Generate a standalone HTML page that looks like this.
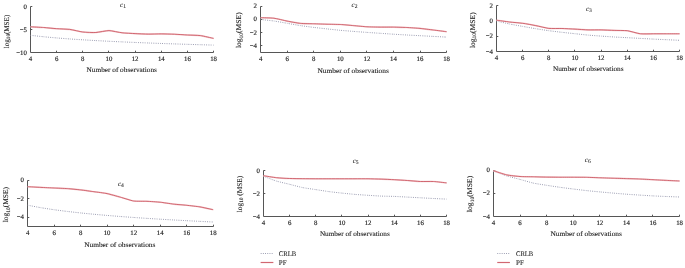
<!DOCTYPE html>
<html><head><meta charset="utf-8"><style>
html,body{margin:0;padding:0;background:#fff;}
svg{display:block;will-change:transform;text-rendering:geometricPrecision;}
text{font-family:"Liberation Serif", serif;fill:#1e1e1e;stroke:#1e1e1e;stroke-width:0.06px;}
.t{font-size:6.8px;stroke-width:0.16px;}
.l{font-size:7.0px;stroke-width:0.1px;}
.ti{font-size:7.0px;font-style:italic;}
</style></head><body>
<svg width="685" height="268" viewBox="0 0 685 268">
<rect width="685" height="268" fill="#fff"/>
<path d="M32.3,6.5 H30.5 V52.5 H213.5 V50.7" fill="none" stroke="#565656" stroke-width="1"/>
<text x="26.9" y="8.7" text-anchor="end" class="t">0</text>
<path d="M30.5,29.5 h1.8" stroke="#565656" stroke-width="1"/>
<text x="26.9" y="31.7" text-anchor="end" class="t">−5</text>
<text x="26.9" y="54.7" text-anchor="end" class="t">−10</text>
<text x="30.5" y="61.0" text-anchor="middle" class="t">4</text>
<path d="M56.5,52.5 v-1.8" stroke="#565656" stroke-width="1"/>
<text x="56.7" y="61.0" text-anchor="middle" class="t">6</text>
<path d="M82.5,52.5 v-1.8" stroke="#565656" stroke-width="1"/>
<text x="82.8" y="61.0" text-anchor="middle" class="t">8</text>
<path d="M108.5,52.5 v-1.8" stroke="#565656" stroke-width="1"/>
<text x="109.0" y="61.0" text-anchor="middle" class="t">10</text>
<path d="M135.5,52.5 v-1.8" stroke="#565656" stroke-width="1"/>
<text x="135.1" y="61.0" text-anchor="middle" class="t">12</text>
<path d="M161.5,52.5 v-1.8" stroke="#565656" stroke-width="1"/>
<text x="161.3" y="61.0" text-anchor="middle" class="t">14</text>
<path d="M187.5,52.5 v-1.8" stroke="#565656" stroke-width="1"/>
<text x="187.4" y="61.0" text-anchor="middle" class="t">16</text>
<text x="213.6" y="61.0" text-anchor="middle" class="t">18</text>
<text x="86.6" y="72.2" class="l" textLength="70.3" lengthAdjust="spacingAndGlyphs">Number of observations</text>
<text transform="translate(8.6,31.5) rotate(-90)" text-anchor="middle" class="l" style="font-size:7.3px" textLength="33.5" lengthAdjust="spacingAndGlyphs">log<tspan font-size="5.3" dy="1.5">10</tspan><tspan dy="-1.5">(MSE)</tspan></text>
<text x="120.1" y="7.3" class="ti">c<tspan font-size="5.6" dy="1.0" font-style="normal">1</tspan></text>
<path d="M30.50,35.30 C31.69,35.43 41.20,36.51 43.58,36.75 C45.96,36.99 54.28,37.74 56.66,37.94 C59.04,38.14 67.36,38.78 69.74,38.95 C72.11,39.12 80.44,39.67 82.81,39.82 C85.19,39.97 93.51,40.45 95.89,40.58 C98.27,40.72 106.59,41.15 108.97,41.27 C111.35,41.39 119.67,41.78 122.05,41.89 C124.43,42.00 132.75,42.36 135.13,42.46 C137.51,42.56 145.83,42.89 148.21,42.98 C150.59,43.07 158.91,43.38 161.29,43.46 C163.66,43.55 171.99,43.83 174.36,43.91 C176.74,43.99 185.06,44.26 187.44,44.33 C189.82,44.41 198.14,44.66 200.52,44.73 C202.90,44.80 212.41,45.07 213.60,45.10" fill="none" stroke="#9597ad" stroke-width="1" stroke-dasharray="0.9 1.3"/>
<path d="M30.50,26.80 C31.69,26.86 41.20,27.33 43.58,27.50 C45.96,27.67 54.28,28.53 56.66,28.70 C59.04,28.87 67.36,29.10 69.74,29.40 C72.11,29.70 80.44,31.72 82.81,32.00 C85.19,32.28 93.51,32.63 95.89,32.50 C98.27,32.37 106.59,30.57 108.97,30.60 C111.35,30.63 119.67,32.53 122.05,32.80 C124.43,33.07 132.75,33.48 135.13,33.60 C137.51,33.72 145.83,34.07 148.21,34.10 C150.59,34.13 158.91,33.89 161.29,33.90 C163.66,33.91 171.99,34.10 174.36,34.20 C176.74,34.30 185.06,34.87 187.44,35.00 C189.82,35.13 198.14,35.29 200.52,35.60 C202.90,35.91 212.41,38.15 213.60,38.40" fill="none" stroke="#f4ccd0" stroke-width="1.6"/><path d="M30.50,26.80 C31.69,26.86 41.20,27.33 43.58,27.50 C45.96,27.67 54.28,28.53 56.66,28.70 C59.04,28.87 67.36,29.10 69.74,29.40 C72.11,29.70 80.44,31.72 82.81,32.00 C85.19,32.28 93.51,32.63 95.89,32.50 C98.27,32.37 106.59,30.57 108.97,30.60 C111.35,30.63 119.67,32.53 122.05,32.80 C124.43,33.07 132.75,33.48 135.13,33.60 C137.51,33.72 145.83,34.07 148.21,34.10 C150.59,34.13 158.91,33.89 161.29,33.90 C163.66,33.91 171.99,34.10 174.36,34.20 C176.74,34.30 185.06,34.87 187.44,35.00 C189.82,35.13 198.14,35.29 200.52,35.60 C202.90,35.91 212.41,38.15 213.60,38.40" fill="none" stroke="#c84c58" stroke-width="0.8"/>
<path d="M262.3,6.5 H260.5 V52.5 H446.5 V50.7" fill="none" stroke="#565656" stroke-width="1"/>
<text x="256.9" y="8.0" text-anchor="end" class="t">2</text>
<path d="M260.5,19.5 h1.8" stroke="#565656" stroke-width="1"/>
<text x="256.9" y="21.3" text-anchor="end" class="t">0</text>
<path d="M260.5,32.5 h1.8" stroke="#565656" stroke-width="1"/>
<text x="256.9" y="34.7" text-anchor="end" class="t">−2</text>
<path d="M260.5,45.5 h1.8" stroke="#565656" stroke-width="1"/>
<text x="256.9" y="48.0" text-anchor="end" class="t">−4</text>
<text x="260.6" y="61.0" text-anchor="middle" class="t">4</text>
<path d="M287.5,52.5 v-1.8" stroke="#565656" stroke-width="1"/>
<text x="287.2" y="61.0" text-anchor="middle" class="t">6</text>
<path d="M313.5,52.5 v-1.8" stroke="#565656" stroke-width="1"/>
<text x="313.7" y="61.0" text-anchor="middle" class="t">8</text>
<path d="M340.5,52.5 v-1.8" stroke="#565656" stroke-width="1"/>
<text x="340.3" y="61.0" text-anchor="middle" class="t">10</text>
<path d="M366.5,52.5 v-1.8" stroke="#565656" stroke-width="1"/>
<text x="366.9" y="61.0" text-anchor="middle" class="t">12</text>
<path d="M393.5,52.5 v-1.8" stroke="#565656" stroke-width="1"/>
<text x="393.5" y="61.0" text-anchor="middle" class="t">14</text>
<path d="M420.5,52.5 v-1.8" stroke="#565656" stroke-width="1"/>
<text x="420.0" y="61.0" text-anchor="middle" class="t">16</text>
<text x="446.6" y="61.0" text-anchor="middle" class="t">18</text>
<text x="317.5" y="72.8" class="l" textLength="71.3" lengthAdjust="spacingAndGlyphs">Number of observations</text>
<text transform="translate(241.2,30.2) rotate(-90)" text-anchor="middle" class="l" style="font-size:7.3px" textLength="35.8" lengthAdjust="spacingAndGlyphs">log<tspan font-size="5.3" dy="1.5">10</tspan><tspan dy="-1.5">(MSE)</tspan></text>
<text x="351.6" y="6.8" class="ti">c<tspan font-size="5.6" dy="1.0" font-style="normal">2</tspan></text>
<path d="M260.60,19.50 C261.81,19.64 271.47,20.65 273.89,21.00 C276.30,21.35 284.76,22.88 287.17,23.30 C289.59,23.72 298.04,25.23 300.46,25.60 C302.87,25.97 311.33,27.10 313.74,27.40 C316.16,27.70 324.61,28.64 327.03,28.90 C329.44,29.16 337.90,30.07 340.31,30.30 C342.73,30.53 351.18,31.21 353.60,31.40 C356.02,31.59 364.47,32.23 366.89,32.40 C369.30,32.57 377.76,33.14 380.17,33.30 C382.59,33.46 391.04,34.05 393.46,34.20 C395.87,34.35 404.33,34.86 406.74,35.00 C409.16,35.14 417.61,35.57 420.03,35.70 C422.44,35.83 430.90,36.27 433.31,36.40 C435.73,36.53 445.39,37.04 446.60,37.10" fill="none" stroke="#9597ad" stroke-width="1" stroke-dasharray="0.9 1.3"/>
<path d="M260.60,17.70 C261.81,17.75 271.47,17.89 273.89,18.20 C276.30,18.51 284.76,20.63 287.17,21.10 C289.59,21.57 298.04,23.15 300.46,23.40 C302.87,23.65 311.33,23.73 313.74,23.80 C316.16,23.87 324.61,24.14 327.03,24.20 C329.44,24.26 337.90,24.37 340.31,24.50 C342.73,24.63 351.18,25.39 353.60,25.60 C356.02,25.81 364.47,26.66 366.89,26.80 C369.30,26.94 377.76,27.07 380.17,27.10 C382.59,27.13 391.04,27.06 393.46,27.10 C395.87,27.14 404.33,27.38 406.74,27.50 C409.16,27.62 417.61,28.17 420.03,28.40 C422.44,28.63 430.90,29.70 433.31,30.00 C435.73,30.30 445.39,31.55 446.60,31.70" fill="none" stroke="#f4ccd0" stroke-width="1.6"/><path d="M260.60,17.70 C261.81,17.75 271.47,17.89 273.89,18.20 C276.30,18.51 284.76,20.63 287.17,21.10 C289.59,21.57 298.04,23.15 300.46,23.40 C302.87,23.65 311.33,23.73 313.74,23.80 C316.16,23.87 324.61,24.14 327.03,24.20 C329.44,24.26 337.90,24.37 340.31,24.50 C342.73,24.63 351.18,25.39 353.60,25.60 C356.02,25.81 364.47,26.66 366.89,26.80 C369.30,26.94 377.76,27.07 380.17,27.10 C382.59,27.13 391.04,27.06 393.46,27.10 C395.87,27.14 404.33,27.38 406.74,27.50 C409.16,27.62 417.61,28.17 420.03,28.40 C422.44,28.63 430.90,29.70 433.31,30.00 C435.73,30.30 445.39,31.55 446.60,31.70" fill="none" stroke="#c84c58" stroke-width="0.8"/>
<path d="M498.3,5.5 H496.5 V51.5 H679.5 V49.7" fill="none" stroke="#565656" stroke-width="1"/>
<text x="492.9" y="7.6" text-anchor="end" class="t">2</text>
<path d="M496.5,20.5 h1.8" stroke="#565656" stroke-width="1"/>
<text x="492.9" y="23.0" text-anchor="end" class="t">0</text>
<path d="M496.5,36.5 h1.8" stroke="#565656" stroke-width="1"/>
<text x="492.9" y="38.3" text-anchor="end" class="t">−2</text>
<text x="492.9" y="53.7" text-anchor="end" class="t">−4</text>
<text x="496.5" y="60.0" text-anchor="middle" class="t">4</text>
<path d="M522.5,51.5 v-1.8" stroke="#565656" stroke-width="1"/>
<text x="522.7" y="60.0" text-anchor="middle" class="t">6</text>
<path d="M548.5,51.5 v-1.8" stroke="#565656" stroke-width="1"/>
<text x="548.8" y="60.0" text-anchor="middle" class="t">8</text>
<path d="M574.5,51.5 v-1.8" stroke="#565656" stroke-width="1"/>
<text x="575.0" y="60.0" text-anchor="middle" class="t">10</text>
<path d="M601.5,51.5 v-1.8" stroke="#565656" stroke-width="1"/>
<text x="601.1" y="60.0" text-anchor="middle" class="t">12</text>
<path d="M627.5,51.5 v-1.8" stroke="#565656" stroke-width="1"/>
<text x="627.3" y="60.0" text-anchor="middle" class="t">14</text>
<path d="M653.5,51.5 v-1.8" stroke="#565656" stroke-width="1"/>
<text x="653.4" y="60.0" text-anchor="middle" class="t">16</text>
<text x="679.6" y="60.0" text-anchor="middle" class="t">18</text>
<text x="552.9" y="71.2" class="l" textLength="70.7" lengthAdjust="spacingAndGlyphs">Number of observations</text>
<text transform="translate(474.5,30.2) rotate(-90)" text-anchor="middle" class="l" style="font-size:7.3px" textLength="35.8" lengthAdjust="spacingAndGlyphs">log<tspan font-size="5.3" dy="1.5">10</tspan><tspan dy="-1.5">(MSE)</tspan></text>
<text x="586" y="11.1" class="ti">c<tspan font-size="5.6" dy="1.0" font-style="normal">3</tspan></text>
<path d="M496.50,21.00 C497.69,21.27 507.20,23.51 509.58,24.00 C511.96,24.49 520.28,25.97 522.66,26.40 C525.04,26.83 533.36,28.31 535.74,28.70 C538.11,29.09 546.44,30.37 548.81,30.70 C551.19,31.03 559.51,32.03 561.89,32.30 C564.27,32.57 572.59,33.45 574.97,33.70 C577.35,33.95 585.67,34.88 588.05,35.10 C590.43,35.32 598.75,35.93 601.13,36.10 C603.51,36.27 611.83,36.85 614.21,37.00 C616.59,37.15 624.91,37.57 627.29,37.70 C629.66,37.83 637.99,38.27 640.36,38.40 C642.74,38.53 651.06,38.98 653.44,39.10 C655.82,39.22 664.14,39.59 666.52,39.70 C668.90,39.81 678.41,40.25 679.60,40.30" fill="none" stroke="#9597ad" stroke-width="1" stroke-dasharray="0.9 1.3"/>
<path d="M496.50,20.20 C497.69,20.36 507.20,21.72 509.58,22.00 C511.96,22.28 520.28,22.97 522.66,23.30 C525.04,23.63 533.36,25.14 535.74,25.60 C538.11,26.06 546.44,28.14 548.81,28.40 C551.19,28.66 559.51,28.44 561.89,28.50 C564.27,28.56 572.59,28.97 574.97,29.10 C577.35,29.23 585.67,29.83 588.05,29.90 C590.43,29.97 598.75,29.85 601.13,29.90 C603.51,29.95 611.83,30.33 614.21,30.40 C616.59,30.47 624.91,30.39 627.29,30.70 C629.66,31.01 637.99,33.52 640.36,33.80 C642.74,34.08 651.06,33.80 653.44,33.80 C655.82,33.80 664.14,33.80 666.52,33.80 C668.90,33.80 678.41,33.80 679.60,33.80" fill="none" stroke="#f4ccd0" stroke-width="1.6"/><path d="M496.50,20.20 C497.69,20.36 507.20,21.72 509.58,22.00 C511.96,22.28 520.28,22.97 522.66,23.30 C525.04,23.63 533.36,25.14 535.74,25.60 C538.11,26.06 546.44,28.14 548.81,28.40 C551.19,28.66 559.51,28.44 561.89,28.50 C564.27,28.56 572.59,28.97 574.97,29.10 C577.35,29.23 585.67,29.83 588.05,29.90 C590.43,29.97 598.75,29.85 601.13,29.90 C603.51,29.95 611.83,30.33 614.21,30.40 C616.59,30.47 624.91,30.39 627.29,30.70 C629.66,31.01 637.99,33.52 640.36,33.80 C642.74,34.08 651.06,33.80 653.44,33.80 C655.82,33.80 664.14,33.80 666.52,33.80 C668.90,33.80 678.41,33.80 679.60,33.80" fill="none" stroke="#c84c58" stroke-width="0.8"/>
<path d="M29.3,180.5 H27.5 V226.5 H213.5 V224.7" fill="none" stroke="#565656" stroke-width="1"/>
<text x="23.9" y="181.7" text-anchor="end" class="t">0</text>
<path d="M27.5,198.5 h1.8" stroke="#565656" stroke-width="1"/>
<text x="23.9" y="200.5" text-anchor="end" class="t">−2</text>
<path d="M27.5,217.5 h1.8" stroke="#565656" stroke-width="1"/>
<text x="23.9" y="219.3" text-anchor="end" class="t">−4</text>
<text x="27.6" y="235.0" text-anchor="middle" class="t">4</text>
<path d="M54.5,226.5 v-1.8" stroke="#565656" stroke-width="1"/>
<text x="54.1" y="235.0" text-anchor="middle" class="t">6</text>
<path d="M80.5,226.5 v-1.8" stroke="#565656" stroke-width="1"/>
<text x="80.6" y="235.0" text-anchor="middle" class="t">8</text>
<path d="M107.5,226.5 v-1.8" stroke="#565656" stroke-width="1"/>
<text x="107.1" y="235.0" text-anchor="middle" class="t">10</text>
<path d="M133.5,226.5 v-1.8" stroke="#565656" stroke-width="1"/>
<text x="133.7" y="235.0" text-anchor="middle" class="t">12</text>
<path d="M160.5,226.5 v-1.8" stroke="#565656" stroke-width="1"/>
<text x="160.2" y="235.0" text-anchor="middle" class="t">14</text>
<path d="M186.5,226.5 v-1.8" stroke="#565656" stroke-width="1"/>
<text x="186.7" y="235.0" text-anchor="middle" class="t">16</text>
<text x="213.2" y="235.0" text-anchor="middle" class="t">18</text>
<text x="84.2" y="246.9" class="l" textLength="71.2" lengthAdjust="spacingAndGlyphs">Number of observations</text>
<text transform="translate(8.0,204.6) rotate(-90)" text-anchor="middle" class="l" style="font-size:7.3px" textLength="35.2" lengthAdjust="spacingAndGlyphs">log<tspan font-size="5.3" dy="1.5">10</tspan><tspan dy="-1.5">(MSE)</tspan></text>
<text x="118" y="185.5" class="ti">c<tspan font-size="5.6" dy="1.0" font-style="normal">4</tspan></text>
<path d="M27.60,205.20 C28.81,205.43 38.45,207.28 40.86,207.69 C43.27,208.10 51.70,209.39 54.11,209.73 C56.52,210.07 64.96,211.16 67.37,211.45 C69.78,211.74 78.22,212.69 80.63,212.94 C83.04,213.20 91.48,214.03 93.89,214.26 C96.30,214.48 104.73,215.23 107.14,215.43 C109.55,215.64 117.99,216.31 120.40,216.50 C122.81,216.68 131.25,217.30 133.66,217.47 C136.07,217.64 144.50,218.21 146.91,218.37 C149.32,218.52 157.76,219.05 160.17,219.19 C162.58,219.34 171.02,219.83 173.43,219.96 C175.84,220.10 184.28,220.56 186.69,220.68 C189.10,220.81 197.53,221.24 199.94,221.36 C202.35,221.48 211.99,221.94 213.20,222.00" fill="none" stroke="#9597ad" stroke-width="1" stroke-dasharray="0.9 1.3"/>
<path d="M27.60,186.70 C28.81,186.76 38.45,187.28 40.86,187.40 C43.27,187.52 51.70,187.89 54.11,188.00 C56.52,188.11 64.96,188.43 67.37,188.60 C69.78,188.77 78.22,189.62 80.63,189.90 C83.04,190.18 91.48,191.36 93.89,191.70 C96.30,192.04 104.73,193.10 107.14,193.60 C109.55,194.10 117.99,196.53 120.40,197.20 C122.81,197.87 131.25,200.63 133.66,201.00 C136.07,201.37 144.50,201.19 146.91,201.30 C149.32,201.41 157.76,201.95 160.17,202.20 C162.58,202.45 171.02,203.82 173.43,204.10 C175.84,204.38 184.28,205.05 186.69,205.30 C189.10,205.55 197.53,206.50 199.94,206.90 C202.35,207.30 211.99,209.45 213.20,209.70" fill="none" stroke="#f4ccd0" stroke-width="1.6"/><path d="M27.60,186.70 C28.81,186.76 38.45,187.28 40.86,187.40 C43.27,187.52 51.70,187.89 54.11,188.00 C56.52,188.11 64.96,188.43 67.37,188.60 C69.78,188.77 78.22,189.62 80.63,189.90 C83.04,190.18 91.48,191.36 93.89,191.70 C96.30,192.04 104.73,193.10 107.14,193.60 C109.55,194.10 117.99,196.53 120.40,197.20 C122.81,197.87 131.25,200.63 133.66,201.00 C136.07,201.37 144.50,201.19 146.91,201.30 C149.32,201.41 157.76,201.95 160.17,202.20 C162.58,202.45 171.02,203.82 173.43,204.10 C175.84,204.38 184.28,205.05 186.69,205.30 C189.10,205.55 197.53,206.50 199.94,206.90 C202.35,207.30 211.99,209.45 213.20,209.70" fill="none" stroke="#c84c58" stroke-width="0.8"/>
<path d="M265.3,170.5 H263.5 V216.5 H446.5 V214.7" fill="none" stroke="#565656" stroke-width="1"/>
<text x="259.9" y="172.7" text-anchor="end" class="t">0</text>
<path d="M263.5,193.5 h1.8" stroke="#565656" stroke-width="1"/>
<text x="259.9" y="195.7" text-anchor="end" class="t">−2</text>
<text x="259.9" y="218.7" text-anchor="end" class="t">−4</text>
<text x="263.4" y="225.0" text-anchor="middle" class="t">4</text>
<path d="M289.5,216.5 v-1.8" stroke="#565656" stroke-width="1"/>
<text x="289.6" y="225.0" text-anchor="middle" class="t">6</text>
<path d="M315.5,216.5 v-1.8" stroke="#565656" stroke-width="1"/>
<text x="315.7" y="225.0" text-anchor="middle" class="t">8</text>
<path d="M341.5,216.5 v-1.8" stroke="#565656" stroke-width="1"/>
<text x="341.9" y="225.0" text-anchor="middle" class="t">10</text>
<path d="M368.5,216.5 v-1.8" stroke="#565656" stroke-width="1"/>
<text x="368.1" y="225.0" text-anchor="middle" class="t">12</text>
<path d="M394.5,216.5 v-1.8" stroke="#565656" stroke-width="1"/>
<text x="394.3" y="225.0" text-anchor="middle" class="t">14</text>
<path d="M420.5,216.5 v-1.8" stroke="#565656" stroke-width="1"/>
<text x="420.4" y="225.0" text-anchor="middle" class="t">16</text>
<text x="446.6" y="225.0" text-anchor="middle" class="t">18</text>
<text x="319.9" y="235.6" class="l" textLength="69.9" lengthAdjust="spacingAndGlyphs">Number of observations</text>
<text transform="translate(241.7,194) rotate(-90)" text-anchor="middle" class="l" style="font-size:7.3px" textLength="36.4" lengthAdjust="spacingAndGlyphs">log<tspan font-size="5.3" dy="1.5">10</tspan><tspan dy="-1.5"> (MSE)</tspan></text>
<text x="352.7" y="163.3" class="ti">c<tspan font-size="5.6" dy="1.0" font-style="normal">5</tspan></text>
<path d="M263.40,176.20 C264.59,176.65 274.11,180.36 276.49,181.10 C278.86,181.84 287.19,183.71 289.57,184.30 C291.95,184.89 300.28,187.12 302.66,187.60 C305.04,188.08 313.36,189.24 315.74,189.60 C318.12,189.96 326.45,191.28 328.83,191.60 C331.21,191.92 339.54,192.85 341.91,193.10 C344.29,193.35 352.62,194.20 355.00,194.40 C357.38,194.60 365.71,195.15 368.09,195.30 C370.46,195.45 378.79,196.00 381.17,196.10 C383.55,196.20 391.88,196.31 394.26,196.40 C396.64,196.49 404.96,196.97 407.34,197.10 C409.72,197.23 418.05,197.67 420.43,197.80 C422.81,197.93 431.14,198.38 433.51,198.50 C435.89,198.62 445.41,199.05 446.60,199.10" fill="none" stroke="#9597ad" stroke-width="1" stroke-dasharray="0.9 1.3"/>
<path d="M263.40,175.70 C264.59,175.88 274.11,177.45 276.49,177.70 C278.86,177.95 287.19,178.41 289.57,178.50 C291.95,178.59 300.28,178.67 302.66,178.70 C305.04,178.73 313.36,178.79 315.74,178.80 C318.12,178.81 326.45,178.80 328.83,178.80 C331.21,178.80 339.54,178.80 341.91,178.80 C344.29,178.80 352.62,178.80 355.00,178.80 C357.38,178.80 365.71,178.77 368.09,178.80 C370.46,178.83 378.79,179.02 381.17,179.10 C383.55,179.18 391.88,179.57 394.26,179.70 C396.64,179.83 404.96,180.34 407.34,180.50 C409.72,180.66 418.05,181.41 420.43,181.50 C422.81,181.59 431.14,181.37 433.51,181.50 C435.89,181.63 445.41,182.77 446.60,182.90" fill="none" stroke="#f4ccd0" stroke-width="1.6"/><path d="M263.40,175.70 C264.59,175.88 274.11,177.45 276.49,177.70 C278.86,177.95 287.19,178.41 289.57,178.50 C291.95,178.59 300.28,178.67 302.66,178.70 C305.04,178.73 313.36,178.79 315.74,178.80 C318.12,178.81 326.45,178.80 328.83,178.80 C331.21,178.80 339.54,178.80 341.91,178.80 C344.29,178.80 352.62,178.80 355.00,178.80 C357.38,178.80 365.71,178.77 368.09,178.80 C370.46,178.83 378.79,179.02 381.17,179.10 C383.55,179.18 391.88,179.57 394.26,179.70 C396.64,179.83 404.96,180.34 407.34,180.50 C409.72,180.66 418.05,181.41 420.43,181.50 C422.81,181.59 431.14,181.37 433.51,181.50 C435.89,181.63 445.41,182.77 446.60,182.90" fill="none" stroke="#c84c58" stroke-width="0.8"/>
<path d="M495.3,170.5 H493.5 V216.5 H679.5 V214.7" fill="none" stroke="#565656" stroke-width="1"/>
<text x="489.9" y="171.9" text-anchor="end" class="t">0</text>
<path d="M493.5,193.5 h1.8" stroke="#565656" stroke-width="1"/>
<text x="489.9" y="195.3" text-anchor="end" class="t">−2</text>
<text x="489.9" y="218.7" text-anchor="end" class="t">−4</text>
<text x="493.4" y="225.0" text-anchor="middle" class="t">4</text>
<path d="M520.5,216.5 v-1.8" stroke="#565656" stroke-width="1"/>
<text x="520.0" y="225.0" text-anchor="middle" class="t">6</text>
<path d="M546.5,216.5 v-1.8" stroke="#565656" stroke-width="1"/>
<text x="546.6" y="225.0" text-anchor="middle" class="t">8</text>
<path d="M573.5,216.5 v-1.8" stroke="#565656" stroke-width="1"/>
<text x="573.2" y="225.0" text-anchor="middle" class="t">10</text>
<path d="M599.5,216.5 v-1.8" stroke="#565656" stroke-width="1"/>
<text x="599.8" y="225.0" text-anchor="middle" class="t">12</text>
<path d="M626.5,216.5 v-1.8" stroke="#565656" stroke-width="1"/>
<text x="626.4" y="225.0" text-anchor="middle" class="t">14</text>
<path d="M652.5,216.5 v-1.8" stroke="#565656" stroke-width="1"/>
<text x="653.0" y="225.0" text-anchor="middle" class="t">16</text>
<text x="679.6" y="225.0" text-anchor="middle" class="t">18</text>
<text x="550.5" y="235.6" class="l" textLength="71.4" lengthAdjust="spacingAndGlyphs">Number of observations</text>
<text transform="translate(472.4,194) rotate(-90)" text-anchor="middle" class="l" style="font-size:7.3px" textLength="36.4" lengthAdjust="spacingAndGlyphs">log<tspan font-size="5.3" dy="1.5">10</tspan><tspan dy="-1.5">(MSE)</tspan></text>
<text x="584.8" y="162.0" class="ti">c<tspan font-size="5.6" dy="1.0" font-style="normal">6</tspan></text>
<path d="M493.40,171.00 C494.61,171.45 504.28,175.14 506.70,175.90 C509.12,176.66 517.58,178.75 520.00,179.40 C522.42,180.05 530.88,182.56 533.30,183.10 C535.72,183.64 544.18,184.92 546.60,185.30 C549.02,185.68 557.48,186.96 559.90,187.30 C562.32,187.64 570.78,188.70 573.20,189.00 C575.62,189.30 584.08,190.34 586.50,190.60 C588.92,190.86 597.38,191.67 599.80,191.90 C602.22,192.13 610.68,192.89 613.10,193.10 C615.52,193.31 623.98,194.02 626.40,194.20 C628.82,194.38 637.28,194.95 639.70,195.10 C642.12,195.25 650.58,195.77 653.00,195.90 C655.42,196.03 663.88,196.40 666.30,196.50 C668.72,196.60 678.39,196.95 679.60,197.00" fill="none" stroke="#9597ad" stroke-width="1" stroke-dasharray="0.9 1.3"/>
<path d="M493.40,170.70 C494.61,171.08 504.28,174.37 506.70,174.90 C509.12,175.43 517.58,176.33 520.00,176.50 C522.42,176.67 530.88,176.75 533.30,176.80 C535.72,176.85 544.18,177.06 546.60,177.10 C549.02,177.14 557.48,177.19 559.90,177.20 C562.32,177.21 570.78,177.19 573.20,177.20 C575.62,177.21 584.08,177.25 586.50,177.30 C588.92,177.35 597.38,177.72 599.80,177.80 C602.22,177.88 610.68,178.13 613.10,178.20 C615.52,178.27 623.98,178.53 626.40,178.60 C628.82,178.67 637.28,178.90 639.70,179.00 C642.12,179.10 650.58,179.57 653.00,179.70 C655.42,179.83 663.88,180.28 666.30,180.40 C668.72,180.52 678.39,180.95 679.60,181.00" fill="none" stroke="#f4ccd0" stroke-width="1.6"/><path d="M493.40,170.70 C494.61,171.08 504.28,174.37 506.70,174.90 C509.12,175.43 517.58,176.33 520.00,176.50 C522.42,176.67 530.88,176.75 533.30,176.80 C535.72,176.85 544.18,177.06 546.60,177.10 C549.02,177.14 557.48,177.19 559.90,177.20 C562.32,177.21 570.78,177.19 573.20,177.20 C575.62,177.21 584.08,177.25 586.50,177.30 C588.92,177.35 597.38,177.72 599.80,177.80 C602.22,177.88 610.68,178.13 613.10,178.20 C615.52,178.27 623.98,178.53 626.40,178.60 C628.82,178.67 637.28,178.90 639.70,179.00 C642.12,179.10 650.58,179.57 653.00,179.70 C655.42,179.83 663.88,180.28 666.30,180.40 C668.72,180.52 678.39,180.95 679.60,181.00" fill="none" stroke="#c84c58" stroke-width="0.8"/>
<path d="M260.7,253.5 h12.6" fill="none" stroke="#9597ad" stroke-width="1" stroke-dasharray="0.9 1.3"/>
<path d="M260.7,262.5 h12.6" fill="none" stroke="#f4ccd0" stroke-width="1.6"/><path d="M260.7,262.5 h12.6" fill="none" stroke="#c84c58" stroke-width="0.8"/>
<text x="278.8" y="256.2" class="l" textLength="17.3" lengthAdjust="spacingAndGlyphs">CRLB</text>
<text x="278.8" y="265.4" class="l">PF</text>
<path d="M497.3,253.5 h12.6" fill="none" stroke="#9597ad" stroke-width="1" stroke-dasharray="0.9 1.3"/>
<path d="M497.3,262.5 h12.6" fill="none" stroke="#f4ccd0" stroke-width="1.6"/><path d="M497.3,262.5 h12.6" fill="none" stroke="#c84c58" stroke-width="0.8"/>
<text x="516" y="256.2" class="l" textLength="17.3" lengthAdjust="spacingAndGlyphs">CRLB</text>
<text x="516" y="265.4" class="l">PF</text>

</svg>
</body></html>
